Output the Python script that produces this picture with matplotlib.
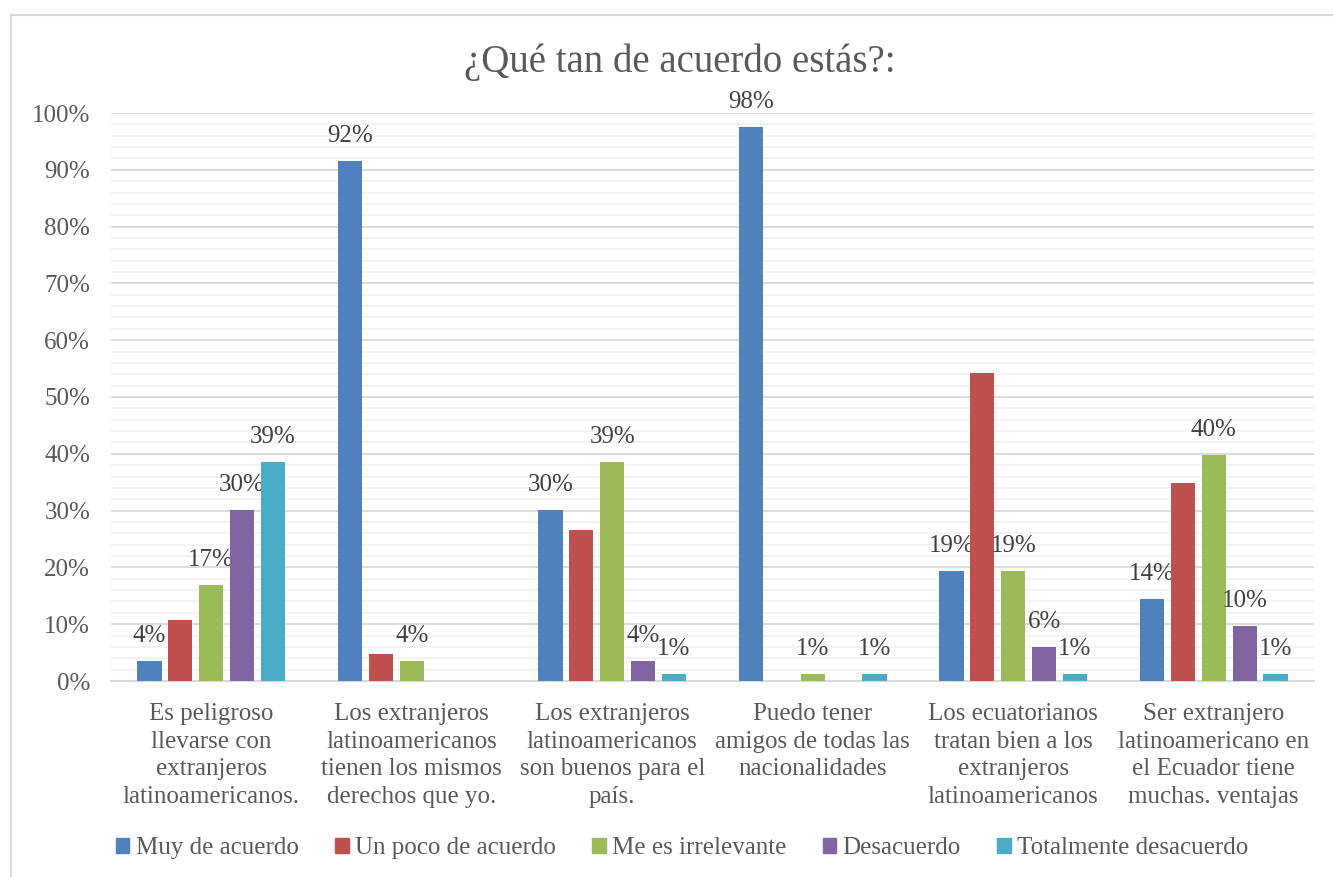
import matplotlib.pyplot as plt
import matplotlib.patches as mpatches
from matplotlib.ticker import MultipleLocator, PercentFormatter
import numpy as np

# datos
categorias = ["Es peligroso\nllevarse con\nextranjeros\nlatinoamericanos.",
              "Los extranjeros\nlatinoamericanos\ntienen los mismos\nderechos que yo.",
              "Los extranjeros\nlatinoamericanos\nson buenos para el\npaís.",
              "Puedo tener\namigos de todas las\nnacionalidades",
              "Los ecuatorianos\ntratan bien a los\nextranjeros\nlatinoamericanos",
              "Ser extranjero\nlatinoamericano en\nel Ecuador tiene\nmuchas. ventajas"]
series = ["Muy de acuerdo", "Un poco de acuerdo", "Me es irrelevante",
          "Desacuerdo", "Totalmente desacuerdo"]
muy = [0.036, 0.916, 0.301, 0.975, 0.193, 0.145]
poco = [0.108, 0.048, 0.265, 0.0, 0.542, 0.349]
irrel = [0.169, 0.036, 0.386, 0.012, 0.193, 0.398]
desac = [0.301, 0.0, 0.036, 0.0, 0.060, 0.097]
total = [0.386, 0.0, 0.012, 0.012, 0.012, 0.012]
colores = ["#4F81BD", "#C0504D", "#9BBB59", "#8064A2", "#4BACC6"]
con_etiqueta = [True, False, True, True, True]

plt.rcParams['font.family'] = ['Liberation Serif', 'DejaVu Serif']
gris = "#595959"

fig = plt.figure(figsize=(13.33, 8.77), dpi=100)
ax = fig.add_axes([111/1333, 1-681/877, (1314-111)/1333, (681-113)/877])

x = np.arange(len(categorias))
ancho = 0.12
paso = 0.154
datos = [muy, poco, irrel, desac, total]
for i, vals in enumerate(datos):
    pos = x + (i-2)*paso
    ax.bar(pos, vals, ancho, color=colores[i], label=series[i], zorder=3)
    if con_etiqueta[i]:
        for px, v in zip(pos, vals):
            if v > 0:
                ax.annotate(f"{round(v*100):.0f}%", (px, v), xytext=(0, 10),
                            textcoords="offset points", ha="center", va="bottom",
                            fontsize=18, color="#404040", annotation_clip=False)

ax.set_xlim(-0.5, 5.5)
ax.set_ylim(0, 1)
ax.yaxis.set_major_locator(MultipleLocator(0.1))
ax.yaxis.set_minor_locator(MultipleLocator(0.02))
ax.yaxis.set_major_formatter(PercentFormatter(1.0, decimals=0))
ax.grid(axis="y", which="major", color="#d9d9d9", lw=1.3, zorder=0)
ax.grid(axis="y", which="minor", color="#f2f2f2", lw=1.3, zorder=0)
ax.set_axisbelow(True)
for s in ["top", "right", "left"]:
    ax.spines[s].set_visible(False)
ax.spines["bottom"].set_color("#d9d9d9")
ax.spines["bottom"].set_linewidth(1.5)
ax.tick_params(axis="y", which="both", length=0, pad=15, labelsize=18, labelcolor=gris)
ax.set_xticks(x)
ax.set_xticklabels(categorias, fontsize=18, color=gris, linespacing=1.33)
ax.tick_params(axis="x", length=0, pad=16)

fig.text(680/1333, 1-62/877, "¿Qué tan de acuerdo estás?:", ha="center", va="center",
         fontsize=28, color=gris)

handles = [mpatches.Patch(color=c) for c in colores]
leg = fig.legend(handles, series, loc="center", bbox_to_anchor=(682/1333, 1-848/877),
                 ncol=5, frameon=False, fontsize=18, handlelength=0.55, handleheight=0.55,
                 handletextpad=0.25, columnspacing=1.45)
for t in leg.get_texts():
    t.set_color(gris)

# borde del area del grafico
fig.add_artist(mpatches.Rectangle((11/1333, -0.1), 1.2, 1.1-15/877, transform=fig.transFigure,
                                  fill=False, edgecolor="#d9d9d9", lw=1.5))

plt.savefig("out.png")
plt.close()
